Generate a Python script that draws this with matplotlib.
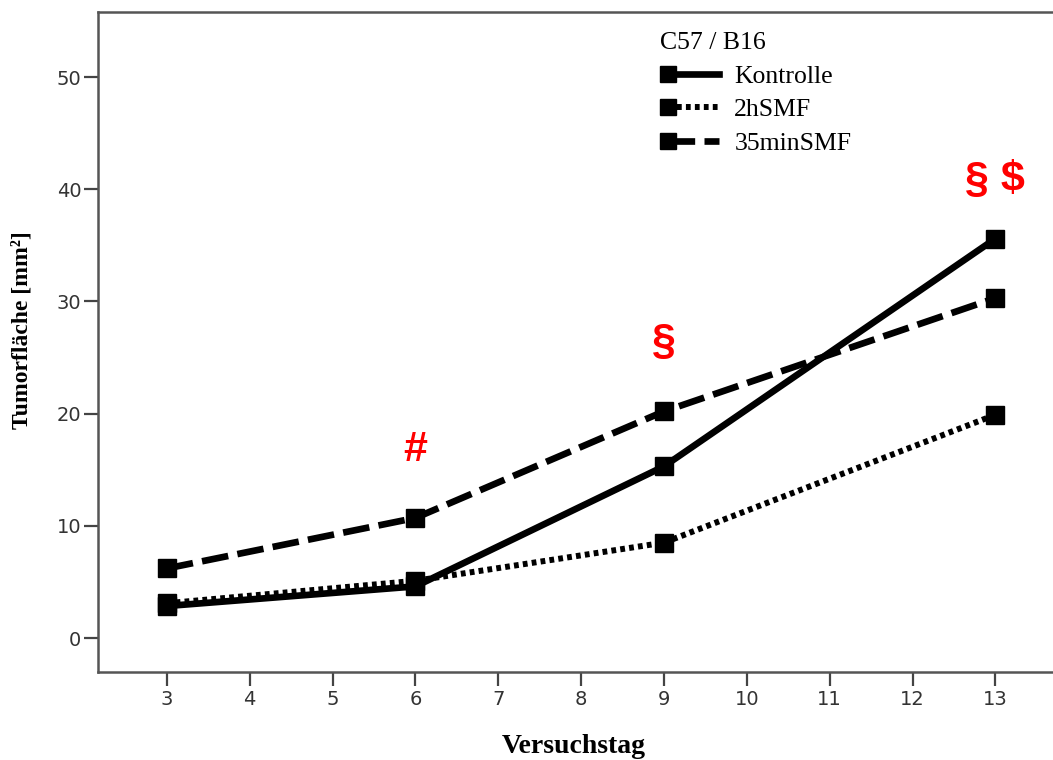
import numpy as np
import matplotlib
matplotlib.use("Agg")
import matplotlib.pyplot as plt
from matplotlib.lines import Line2D
from matplotlib.legend_handler import HandlerLine2D

# ---- data ----
days = [3, 6, 9, 13]
kontrolle = [2.85, 4.6, 15.3, 35.6]
smf_2h = [3.1, 5.1, 8.5, 19.9]
smf_35min = [6.2, 10.7, 20.2, 30.3]
series_names = ["Kontrolle", "2hSMF", "35minSMF"]
legend_title = "C57 / B16"
x_ticks = list(range(3, 14))
y_ticks = [0, 10, 20, 30, 40, 50]
annot_texts = ["#", "§", "§ $"]
annot_x = [6, 9, 13]
annot_y = [16.8, 26.4, 40.8]

W, H = 1053, 760
fig = plt.figure(figsize=(W / 100, H / 100), dpi=100)
fig.patch.set_facecolor("white")
ax = fig.add_axes([98 / W, 88 / H, 972 / W, 660 / H])

styles = [
    dict(linestyle="-", linewidth=4.8),
    dict(linestyle=(0, (0.8, 0.7)), linewidth=4.3),
    dict(linestyle=(0, (4.0, 1.4)), linewidth=4.8),
]
for vals, st in zip([kontrolle, smf_2h, smf_35min], styles):
    ax.plot(days, vals, color="black", marker="s", markersize=13,
            solid_capstyle="butt", dash_capstyle="butt", **st)

ax.set_xlim(2.17, 13.9)
ax.set_ylim(-3.03, 55.8)
ax.set_xticks(x_ticks)
ax.set_yticks(y_ticks)
ax.tick_params(axis="both", direction="out", length=10, width=1.6,
               color="#444444", labelcolor="#333333", labelsize=14)
ax.tick_params(axis="y", pad=2)
ax.tick_params(axis="x", pad=3)
for lab in ax.get_xticklabels() + ax.get_yticklabels():
    lab.set_family("DejaVu Sans")
for sp in ax.spines.values():
    sp.set_color("#555555")
    sp.set_linewidth(1.8)

ax.set_xlabel("Versuchstag", fontfamily="Liberation Serif", fontweight="bold",
              fontsize=20)
ax.xaxis.label.set_va("baseline")
ax.xaxis.set_label_coords((574 - 98) / 972, -(753 - 672) / 660)

ax.set_ylabel("Tumorfläche [mm²]", fontfamily="Liberation Serif", fontweight="bold",
              fontsize=17)
ax.yaxis.label.set_va("center")
ax.yaxis.set_label_coords(-(98 - 22) / 972, (672 - 330) / 660)

for t, xx, yy in zip(annot_texts, annot_x, annot_y):
    ax.text(xx, yy, t, color="red", fontsize=31, fontweight="bold",
            fontfamily="Liberation Sans", ha="center", va="center")


class MarkerFirst(HandlerLine2D):
    def create_artists(self, legend, orig_handle, xdescent, ydescent,
                       width, height, fontsize, trans):
        xdata, _ = self.get_xdata(legend, xdescent, ydescent, width, height, fontsize)
        y = (height - ydescent) / 2
        line = Line2D([xdata[0], xdata[-1]], [y, y])
        self.update_prop(line, orig_handle, legend)
        line.set_marker("None")
        mk = Line2D([xdata[0]], [y])
        self.update_prop(mk, orig_handle, legend)
        mk.set_linestyle("None")
        line.set_transform(trans)
        mk.set_transform(trans)
        return [line, mk]


handles = [Line2D([], [], color="black", marker="s", markersize=11, **st)
           for st in styles]
leg = fig.legend(handles, series_names, title=legend_title, loc="upper left",
                 bbox_to_anchor=(647 / W, 1 - 19 / H), frameon=False,
                 numpoints=2, handlelength=2.6, handletextpad=0.3,
                 labelspacing=0.42, borderpad=0, alignment="left",
                 handler_map={Line2D: MarkerFirst()},
                 prop=dict(family="Liberation Serif", size=18.5),
                 title_fontproperties=dict(family="Liberation Serif", size=18.5))

fig.savefig("out.png", dpi=100, facecolor="white")
